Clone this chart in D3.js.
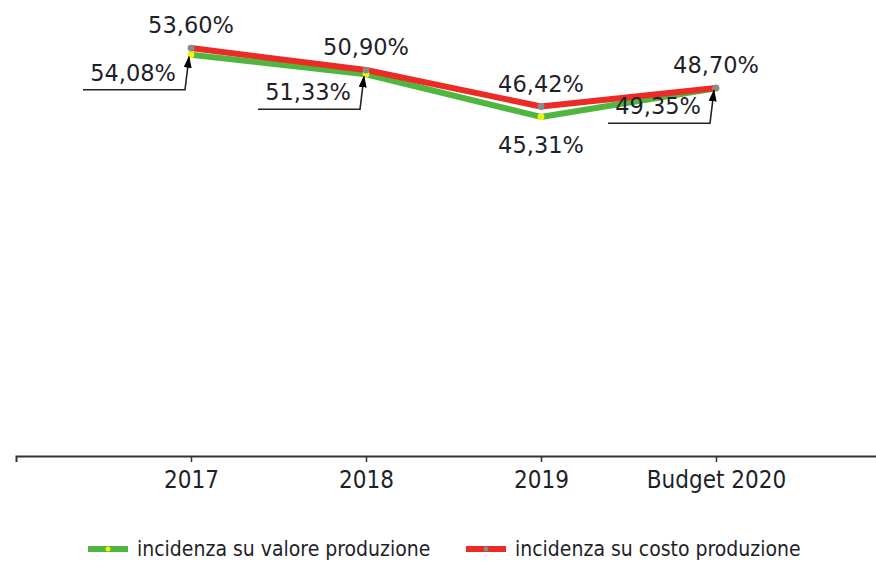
<!DOCTYPE html>
<html>
<head>
<meta charset="utf-8">
<script src="https://cdn.jsdelivr.net/npm/d3@7"></script>
<style>
  html, body { margin: 0; padding: 0; background: #fff; }
  svg { display: block; }
  .cond { font-family: 'DejaVu Sans Condensed', 'DejaVu Sans', sans-serif; font-stretch: condensed; }
  .lbl { font-family: 'DejaVu Sans', Verdana, sans-serif; font-size: 22.5px; fill: #1f1f2a; }
</style>
</head>
<body>
<svg id="chart" width="876" height="561"></svg>
<script>
// ---- data ----
const categories = ["2017", "2018", "2019", "Budget 2020"];
const valoreProduzione = [54.08, 51.33, 45.31, 49.35];   // green
const costoProduzione  = [53.60, 50.90, 46.42, 48.70];   // red
const seriesNames = ["incidenza su valore produzione", "incidenza su costo produzione"];
const labelText = v => d3.format(".2f")(v).replace(".", ",") + "%";

// ---- layout ----
const axisY = 456;
const svg = d3.select("#chart");

// pad points at both ends (empty category slots)
const x = d3.scalePoint()
  .domain(["__start", ...categories, "__end"])
  .range([16, 891]);

// two hidden value axes
const yCosto = d3.scaleLinear().domain([3.5, 59.5]).range([axisY, 0]);
const yValore = d3.scaleLinear().domain([-2.5, 61.8]).range([axisY, 0]);

const green = "#4fb63f", red = "#ec2a26";

// defs: arrow marker
svg.append("defs").append("marker")
  .attr("id", "arrow")
  .attr("viewBox", "0 0 12 8")
  .attr("refX", 11).attr("refY", 4)
  .attr("markerWidth", 12).attr("markerHeight", 8)
  .attr("markerUnits", "userSpaceOnUse")
  .attr("orient", "auto")
  .append("path").attr("d", "M0,0 L12,4 L0,8 Z").attr("fill", "#000");

// ---- x axis ----
const axis = d3.axisBottom(x)
  .tickValues(categories)
  .tickSizeInner(6).tickSizeOuter(6)
  .tickPadding(9);
const gx = svg.append("g").attr("transform", `translate(0,${axisY})`).call(axis);
gx.select(".domain").attr("stroke", "#333").attr("stroke-width", 2);
gx.selectAll(".tick line").attr("stroke", "#333").attr("stroke-width", 1.5);
gx.selectAll(".tick text")
  .attr("class", "cond")
  .attr("font-size", 24)
  .attr("fill", "#1f1f2a");

// ---- lines ----
const lineV = d3.line().x((d, i) => x(categories[i])).y(d => yValore(d));
const lineC = d3.line().x((d, i) => x(categories[i])).y(d => yCosto(d));

svg.append("path").datum(valoreProduzione)
  .attr("d", lineV).attr("fill", "none").attr("stroke", green)
  .attr("stroke-width", 6).attr("stroke-linejoin", "round");
svg.append("path").datum(costoProduzione)
  .attr("d", lineC).attr("fill", "none").attr("stroke", red)
  .attr("stroke-width", 6).attr("stroke-linejoin", "round");

// markers
svg.selectAll(".mv").data(valoreProduzione).join("circle")
  .attr("cx", (d, i) => x(categories[i])).attr("cy", d => yValore(d))
  .attr("r", 3.4).attr("fill", "#f2f20a");
svg.selectAll(".mc").data(costoProduzione).join("circle")
  .attr("cx", (d, i) => x(categories[i])).attr("cy", d => yCosto(d))
  .attr("r", 3.4).attr("fill", "#8a8a8a");

// ---- red labels (above) ----
svg.selectAll(".lc").data(costoProduzione).join("text")
  .attr("class", "lbl")
  .attr("x", (d, i) => x(categories[i]))
  .attr("y", d => yCosto(d) - 15)
  .attr("text-anchor", "middle")
  .text(labelText);

// ---- green labels: callouts except 2019 (below) ----
const callout = [true, true, false, true];
valoreProduzione.forEach((v, i) => {
  const px = x(categories[i]), py = yValore(v);
  if (callout[i]) {
    const cx = px - 6, cy = py + 35;
    svg.append("path")
      .attr("d", `M${cx - 102},${cy} H${cx} L${px - 2},${py + 2}`)
      .attr("fill", "none").attr("stroke", "#222").attr("stroke-width", 1.6)
      .attr("marker-end", "url(#arrow)");
    svg.append("text").attr("class", "lbl")
      .attr("x", cx - 9).attr("y", cy - 9)
      .attr("text-anchor", "end")
      .text(labelText(v));
  } else {
    svg.append("text").attr("class", "lbl")
      .attr("x", px).attr("y", py + 36)
      .attr("text-anchor", "middle")
      .text(labelText(v));
  }
});

// ---- legend ----
const legendItems = [
  { name: seriesNames[0], color: green, dot: "#f2f20a", x: 88 },
  { name: seriesNames[1], color: red, dot: "#8a8a8a", x: 466 }
];
const lg = svg.append("g");
legendItems.forEach(it => {
  lg.append("line").attr("x1", it.x).attr("x2", it.x + 40)
    .attr("y1", 549).attr("y2", 549)
    .attr("stroke", it.color).attr("stroke-width", 6);
  lg.append("circle").attr("cx", it.x + 20).attr("cy", 549).attr("r", 2.5).attr("fill", it.dot);
  lg.append("text").attr("class", "cond")
    .attr("x", it.x + 49).attr("y", 556)
    .attr("font-size", 21).attr("fill", "#1f1f2a")
    .text(it.name);
});
</script>
</body>
</html>
